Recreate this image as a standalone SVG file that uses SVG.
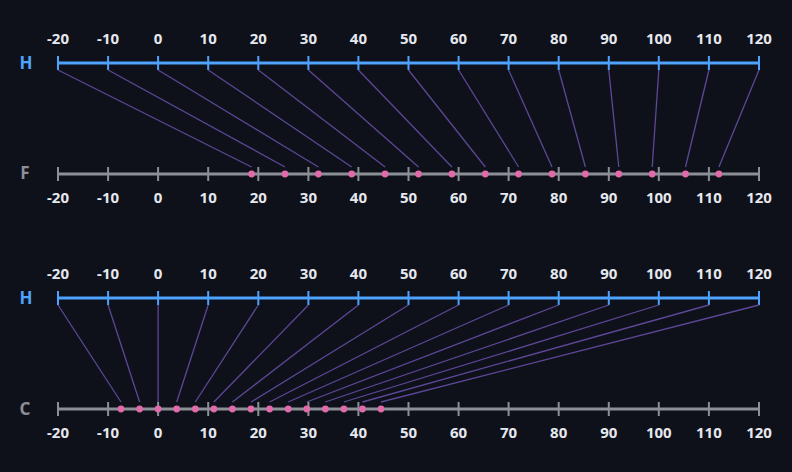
<svg xmlns="http://www.w3.org/2000/svg" width="792" height="472" viewBox="0 0 792 472">
<style>
.bg{fill:#0e111a}
.axH{stroke:#4da3ff;stroke-width:3;fill:none}
.tkH{stroke:#4da3ff;stroke-width:2}
.axG{stroke:#8b9096;stroke-width:3;fill:none}
.tkG{stroke:#8b9096;stroke-width:2}
.num{font-family:"Noto Sans",sans-serif;font-weight:bold;font-size:15px;fill:#e6e8ee;text-anchor:middle}
.lblH{font-family:"Noto Sans",sans-serif;font-weight:bold;font-size:17px;fill:#4da3ff;text-anchor:middle}
.lblG{font-family:"Noto Sans",sans-serif;font-weight:bold;font-size:17px;fill:#8b9096;text-anchor:middle}
.cn{stroke:#5d4796;stroke-width:1.3;fill:none}
.dot{fill:#e06aaa}
</style>
<rect class="bg" x="0" y="0" width="792" height="472"/>

<g id="axis-H-top">
<text class="lblH" x="26" y="68.5">H</text>
<line class="axH" x1="58" y1="63" x2="759" y2="63"/>
<g class="tkH">
<line x1="58" y1="56" x2="58" y2="70"/><line x1="108.1" y1="56" x2="108.1" y2="70"/><line x1="158.1" y1="56" x2="158.1" y2="70"/><line x1="208.2" y1="56" x2="208.2" y2="70"/><line x1="258.3" y1="56" x2="258.3" y2="70"/><line x1="308.4" y1="56" x2="308.4" y2="70"/><line x1="358.4" y1="56" x2="358.4" y2="70"/><line x1="408.5" y1="56" x2="408.5" y2="70"/><line x1="458.6" y1="56" x2="458.6" y2="70"/><line x1="508.6" y1="56" x2="508.6" y2="70"/><line x1="558.7" y1="56" x2="558.7" y2="70"/><line x1="608.8" y1="56" x2="608.8" y2="70"/><line x1="658.8" y1="56" x2="658.8" y2="70"/><line x1="708.9" y1="56" x2="708.9" y2="70"/><line x1="759" y1="56" x2="759" y2="70"/>
</g>
<g>
<text class="num" x="58" y="43.5">-20</text><text class="num" x="108.1" y="43.5">-10</text><text class="num" x="158.1" y="43.5">0</text><text class="num" x="208.2" y="43.5">10</text><text class="num" x="258.3" y="43.5">20</text><text class="num" x="308.4" y="43.5">30</text><text class="num" x="358.4" y="43.5">40</text><text class="num" x="408.5" y="43.5">50</text><text class="num" x="458.6" y="43.5">60</text><text class="num" x="508.6" y="43.5">70</text><text class="num" x="558.7" y="43.5">80</text><text class="num" x="608.8" y="43.5">90</text><text class="num" x="658.8" y="43.5">100</text><text class="num" x="708.9" y="43.5">110</text><text class="num" x="759" y="43.5">120</text>
</g>
</g>

<g id="axis-F">
<text class="lblG" x="25" y="178.5">F</text>
<line class="axG" x1="58" y1="174" x2="759" y2="174"/>
<g class="tkG">
<line x1="58" y1="167" x2="58" y2="181"/><line x1="108.1" y1="167" x2="108.1" y2="181"/><line x1="158.1" y1="167" x2="158.1" y2="181"/><line x1="208.2" y1="167" x2="208.2" y2="181"/><line x1="258.3" y1="167" x2="258.3" y2="181"/><line x1="308.4" y1="167" x2="308.4" y2="181"/><line x1="358.4" y1="167" x2="358.4" y2="181"/><line x1="408.5" y1="167" x2="408.5" y2="181"/><line x1="458.6" y1="167" x2="458.6" y2="181"/><line x1="508.6" y1="167" x2="508.6" y2="181"/><line x1="558.7" y1="167" x2="558.7" y2="181"/><line x1="608.8" y1="167" x2="608.8" y2="181"/><line x1="658.8" y1="167" x2="658.8" y2="181"/><line x1="708.9" y1="167" x2="708.9" y2="181"/><line x1="759" y1="167" x2="759" y2="181"/>
</g>
<g>
<text class="num" x="58" y="203">-20</text><text class="num" x="108.1" y="203">-10</text><text class="num" x="158.1" y="203">0</text><text class="num" x="208.2" y="203">10</text><text class="num" x="258.3" y="203">20</text><text class="num" x="308.4" y="203">30</text><text class="num" x="358.4" y="203">40</text><text class="num" x="408.5" y="203">50</text><text class="num" x="458.6" y="203">60</text><text class="num" x="508.6" y="203">70</text><text class="num" x="558.7" y="203">80</text><text class="num" x="608.8" y="203">90</text><text class="num" x="658.8" y="203">100</text><text class="num" x="708.9" y="203">110</text><text class="num" x="759" y="203">120</text>
</g>
</g>

<g id="connectors-HF" class="cn">
<line x1="58" y1="70" x2="251.6" y2="167"/><line x1="108.1" y1="70" x2="285" y2="167"/><line x1="158.1" y1="70" x2="318.4" y2="167"/><line x1="208.2" y1="70" x2="351.7" y2="167"/><line x1="258.3" y1="70" x2="385.1" y2="167"/><line x1="308.4" y1="70" x2="418.5" y2="167"/><line x1="358.4" y1="70" x2="451.9" y2="167"/><line x1="408.5" y1="70" x2="485.3" y2="167"/><line x1="458.6" y1="70" x2="518.6" y2="167"/><line x1="508.6" y1="70" x2="552" y2="167"/><line x1="558.7" y1="70" x2="585.4" y2="167"/><line x1="608.8" y1="70" x2="618.8" y2="167"/><line x1="658.8" y1="70" x2="652.2" y2="167"/><line x1="708.9" y1="70" x2="685.5" y2="167"/><line x1="759" y1="70" x2="718.9" y2="167"/>
</g>
<g id="points-F" class="dot">
<circle cx="251.6" cy="174" r="3.4"/><circle cx="285" cy="174" r="3.4"/><circle cx="318.4" cy="174" r="3.4"/><circle cx="351.7" cy="174" r="3.4"/><circle cx="385.1" cy="174" r="3.4"/><circle cx="418.5" cy="174" r="3.4"/><circle cx="451.9" cy="174" r="3.4"/><circle cx="485.3" cy="174" r="3.4"/><circle cx="518.6" cy="174" r="3.4"/><circle cx="552" cy="174" r="3.4"/><circle cx="585.4" cy="174" r="3.4"/><circle cx="618.8" cy="174" r="3.4"/><circle cx="652.2" cy="174" r="3.4"/><circle cx="685.5" cy="174" r="3.4"/><circle cx="718.9" cy="174" r="3.4"/>
</g>

<g id="axis-H-bottom">
<text class="lblH" x="26" y="303.5">H</text>
<line class="axH" x1="58" y1="298" x2="759" y2="298"/>
<g class="tkH">
<line x1="58" y1="291" x2="58" y2="305"/><line x1="108.1" y1="291" x2="108.1" y2="305"/><line x1="158.1" y1="291" x2="158.1" y2="305"/><line x1="208.2" y1="291" x2="208.2" y2="305"/><line x1="258.3" y1="291" x2="258.3" y2="305"/><line x1="308.4" y1="291" x2="308.4" y2="305"/><line x1="358.4" y1="291" x2="358.4" y2="305"/><line x1="408.5" y1="291" x2="408.5" y2="305"/><line x1="458.6" y1="291" x2="458.6" y2="305"/><line x1="508.6" y1="291" x2="508.6" y2="305"/><line x1="558.7" y1="291" x2="558.7" y2="305"/><line x1="608.8" y1="291" x2="608.8" y2="305"/><line x1="658.8" y1="291" x2="658.8" y2="305"/><line x1="708.9" y1="291" x2="708.9" y2="305"/><line x1="759" y1="291" x2="759" y2="305"/>
</g>
<g>
<text class="num" x="58" y="278.5">-20</text><text class="num" x="108.1" y="278.5">-10</text><text class="num" x="158.1" y="278.5">0</text><text class="num" x="208.2" y="278.5">10</text><text class="num" x="258.3" y="278.5">20</text><text class="num" x="308.4" y="278.5">30</text><text class="num" x="358.4" y="278.5">40</text><text class="num" x="408.5" y="278.5">50</text><text class="num" x="458.6" y="278.5">60</text><text class="num" x="508.6" y="278.5">70</text><text class="num" x="558.7" y="278.5">80</text><text class="num" x="608.8" y="278.5">90</text><text class="num" x="658.8" y="278.5">100</text><text class="num" x="708.9" y="278.5">110</text><text class="num" x="759" y="278.5">120</text>
</g>
</g>

<g id="axis-C">
<text class="lblG" x="25" y="414.5">C</text>
<line class="axG" x1="58" y1="409" x2="759" y2="409"/>
<g class="tkG">
<line x1="58" y1="402" x2="58" y2="416"/><line x1="108.1" y1="402" x2="108.1" y2="416"/><line x1="158.1" y1="402" x2="158.1" y2="416"/><line x1="208.2" y1="402" x2="208.2" y2="416"/><line x1="258.3" y1="402" x2="258.3" y2="416"/><line x1="308.4" y1="402" x2="308.4" y2="416"/><line x1="358.4" y1="402" x2="358.4" y2="416"/><line x1="408.5" y1="402" x2="408.5" y2="416"/><line x1="458.6" y1="402" x2="458.6" y2="416"/><line x1="508.6" y1="402" x2="508.6" y2="416"/><line x1="558.7" y1="402" x2="558.7" y2="416"/><line x1="608.8" y1="402" x2="608.8" y2="416"/><line x1="658.8" y1="402" x2="658.8" y2="416"/><line x1="708.9" y1="402" x2="708.9" y2="416"/><line x1="759" y1="402" x2="759" y2="416"/>
</g>
<g>
<text class="num" x="58" y="438">-20</text><text class="num" x="108.1" y="438">-10</text><text class="num" x="158.1" y="438">0</text><text class="num" x="208.2" y="438">10</text><text class="num" x="258.3" y="438">20</text><text class="num" x="308.4" y="438">30</text><text class="num" x="358.4" y="438">40</text><text class="num" x="408.5" y="438">50</text><text class="num" x="458.6" y="438">60</text><text class="num" x="508.6" y="438">70</text><text class="num" x="558.7" y="438">80</text><text class="num" x="608.8" y="438">90</text><text class="num" x="658.8" y="438">100</text><text class="num" x="708.9" y="438">110</text><text class="num" x="759" y="438">120</text>
</g>
</g>

<g id="connectors-HC" class="cn">
<line x1="58" y1="305" x2="121" y2="402"/><line x1="108.1" y1="305" x2="139.6" y2="402"/><line x1="158.1" y1="305" x2="158.1" y2="402"/><line x1="208.2" y1="305" x2="176.7" y2="402"/><line x1="258.3" y1="305" x2="195.3" y2="402"/><line x1="308.4" y1="305" x2="213.9" y2="402"/><line x1="358.4" y1="305" x2="232.4" y2="402"/><line x1="408.5" y1="305" x2="251" y2="402"/><line x1="458.6" y1="305" x2="269.6" y2="402"/><line x1="508.6" y1="305" x2="288.2" y2="402"/><line x1="558.7" y1="305" x2="306.8" y2="402"/><line x1="608.8" y1="305" x2="325.4" y2="402"/><line x1="658.8" y1="305" x2="343.9" y2="402"/><line x1="708.9" y1="305" x2="362.5" y2="402"/><line x1="759" y1="305" x2="381" y2="402"/>
</g>
<g id="points-C" class="dot">
<circle cx="121" cy="409" r="3.4"/><circle cx="139.6" cy="409" r="3.4"/><circle cx="158.1" cy="409" r="3.4"/><circle cx="176.7" cy="409" r="3.4"/><circle cx="195.3" cy="409" r="3.4"/><circle cx="213.9" cy="409" r="3.4"/><circle cx="232.4" cy="409" r="3.4"/><circle cx="251" cy="409" r="3.4"/><circle cx="269.6" cy="409" r="3.4"/><circle cx="288.2" cy="409" r="3.4"/><circle cx="306.8" cy="409" r="3.4"/><circle cx="325.4" cy="409" r="3.4"/><circle cx="343.9" cy="409" r="3.4"/><circle cx="362.5" cy="409" r="3.4"/><circle cx="381" cy="409" r="3.4"/>
</g>
</svg>
